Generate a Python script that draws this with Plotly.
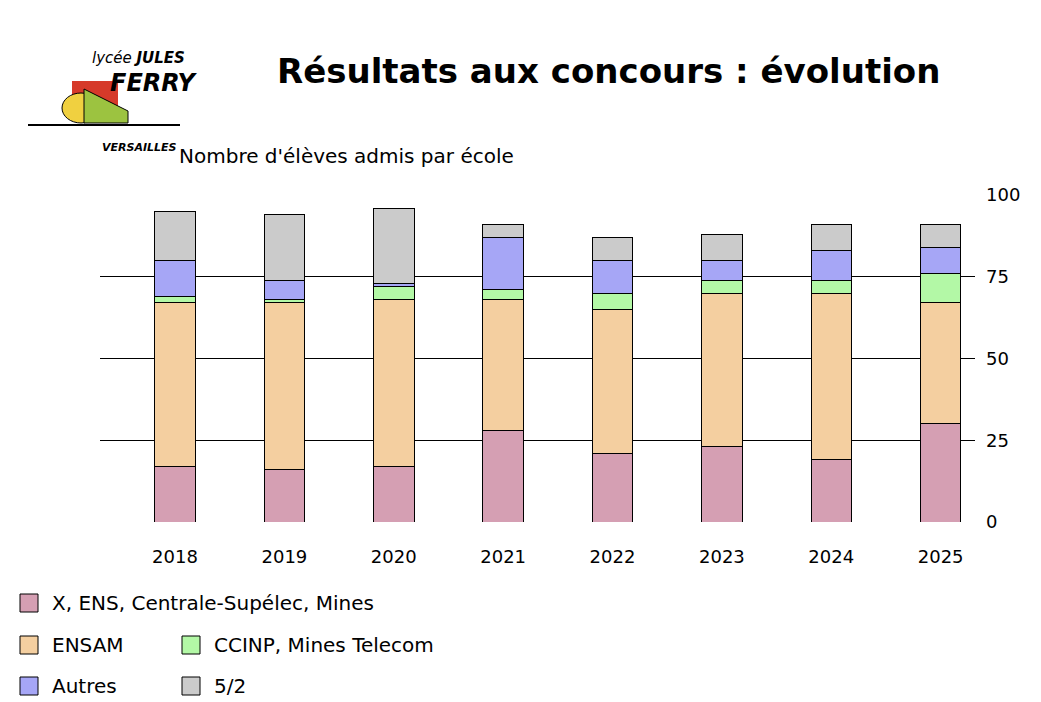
import plotly.graph_objects as go

years = ["2018","2019","2020","2021","2022","2023","2024","2025"]
x_ens = [17,16,17,28,21,23,19,30]
ensam = [50,51,51,40,44,47,51,37]
ccinp = [2,1,4,3,5,4,4,9]
autres = [11,6,1,16,10,6,9,8]
cinq_demi = [15,20,23,4,7,8,8,7]

names = ["X, ENS, Centrale-Supélec, Mines","ENSAM","CCINP, Mines Telecom","Autres","5/2"]
colors = ["#d59fb3","#f4cfa0","#b3f8a6","#a6a6f6","#cbcbcb"]
series = [x_ens, ensam, ccinp, autres, cinq_demi]

fig = go.Figure()
for n, c, v in zip(names, colors, series):
    fig.add_bar(x=list(range(len(years))), y=v, name=n, width=0.37,
                marker=dict(color=c, line=dict(color="black", width=1)))

F = "DejaVu Sans"
OX, OY = 8, 7  # page offset
fig.update_layout(
    barmode="stack", width=1041, height=702,
    margin=dict(l=100-OX, r=66+OX, t=194-OY, b=181+OY),
    plot_bgcolor="white", paper_bgcolor="white", showlegend=False,
    font=dict(family=F, size=18, color="black"),
    xaxis=dict(showline=False, ticks="", tickfont=dict(size=18), range=[-0.686, 7.314],
               tickvals=list(range(len(years))), ticktext=years, ticklabelstandoff=22, showgrid=False),
    yaxis=dict(side="right", range=[0,100], tickvals=[0,25,50,75,100],
               showgrid=True, gridcolor="black", gridwidth=1, zeroline=False,
               tickfont=dict(size=18), ticklabelstandoff=10),
)
def px(xp): return (xp-100)/875
def py(yp): return 1-(yp-194)/(521-194)

anns = [
    dict(text="<b>Résultats aux concours : évolution</b>", x=608, y=70, size=34),
    dict(text="Nombre d'élèves admis par école", x=346, y=155, size=20),
]
for a in anns:
    fig.add_annotation(text=a["text"], x=px(a["x"]), y=py(a["y"]), xref="paper", yref="paper",
                       showarrow=False, font=dict(size=a["size"], family=F), xanchor="center", yanchor="middle")

leg = [(0, 20, 602), (1, 20, 644), (2, 182, 644), (3, 20, 685), (4, 182, 685)]
for i, lx, ly in leg:
    fig.add_shape(type="rect", xref="paper", yref="paper", x0=px(lx), x1=px(lx+18), y0=py(ly+9), y1=py(ly-9),
                  fillcolor=colors[i], line=dict(color="black", width=1))
    fig.add_annotation(text=names[i], xref="paper", yref="paper", x=px(lx+30), y=py(ly), showarrow=False,
                       xanchor="left", yanchor="middle", font=dict(size=20, family=F))

# logo approximation
fig.add_shape(type="rect", xref="paper", yref="paper", x0=px(72), x1=px(118), y0=py(118), y1=py(80),
              fillcolor="#d63a2a", line=dict(width=0))
fig.add_shape(type="circle", xref="paper", yref="paper", x0=px(62), x1=px(100), y0=py(122), y1=py(92),
              fillcolor="#f0d040", line=dict(color="black", width=1))
fig.add_shape(type="path", xref="paper", yref="paper",
              path=f"M {px(84)} {py(122)} L {px(84)} {py(88)} L {px(128)} {py(110)} L {px(128)} {py(122)} Z",
              fillcolor="#9cc340", line=dict(color="black", width=1))
fig.add_shape(type="line", xref="paper", yref="paper", x0=px(28), x1=px(180), y0=py(124), y1=py(124),
              line=dict(color="black", width=2))
fig.add_annotation(text="<i>lycée</i> <b><i>JULES</i></b>", xref="paper", yref="paper", x=px(90), y=py(46), showarrow=False,
                   font=dict(size=15, family=F))
fig.add_annotation(text="<b><i>FERRY</i></b>", xref="paper", yref="paper", x=px(108), y=py(66), showarrow=False,
                   font=dict(size=24, family=F))
fig.add_annotation(text="<b><i>VERSAILLES</i></b>", xref="paper", yref="paper", x=px(100), y=py(138), showarrow=False,
                   font=dict(size=11, family=F))
fig.write_html("out.html")
